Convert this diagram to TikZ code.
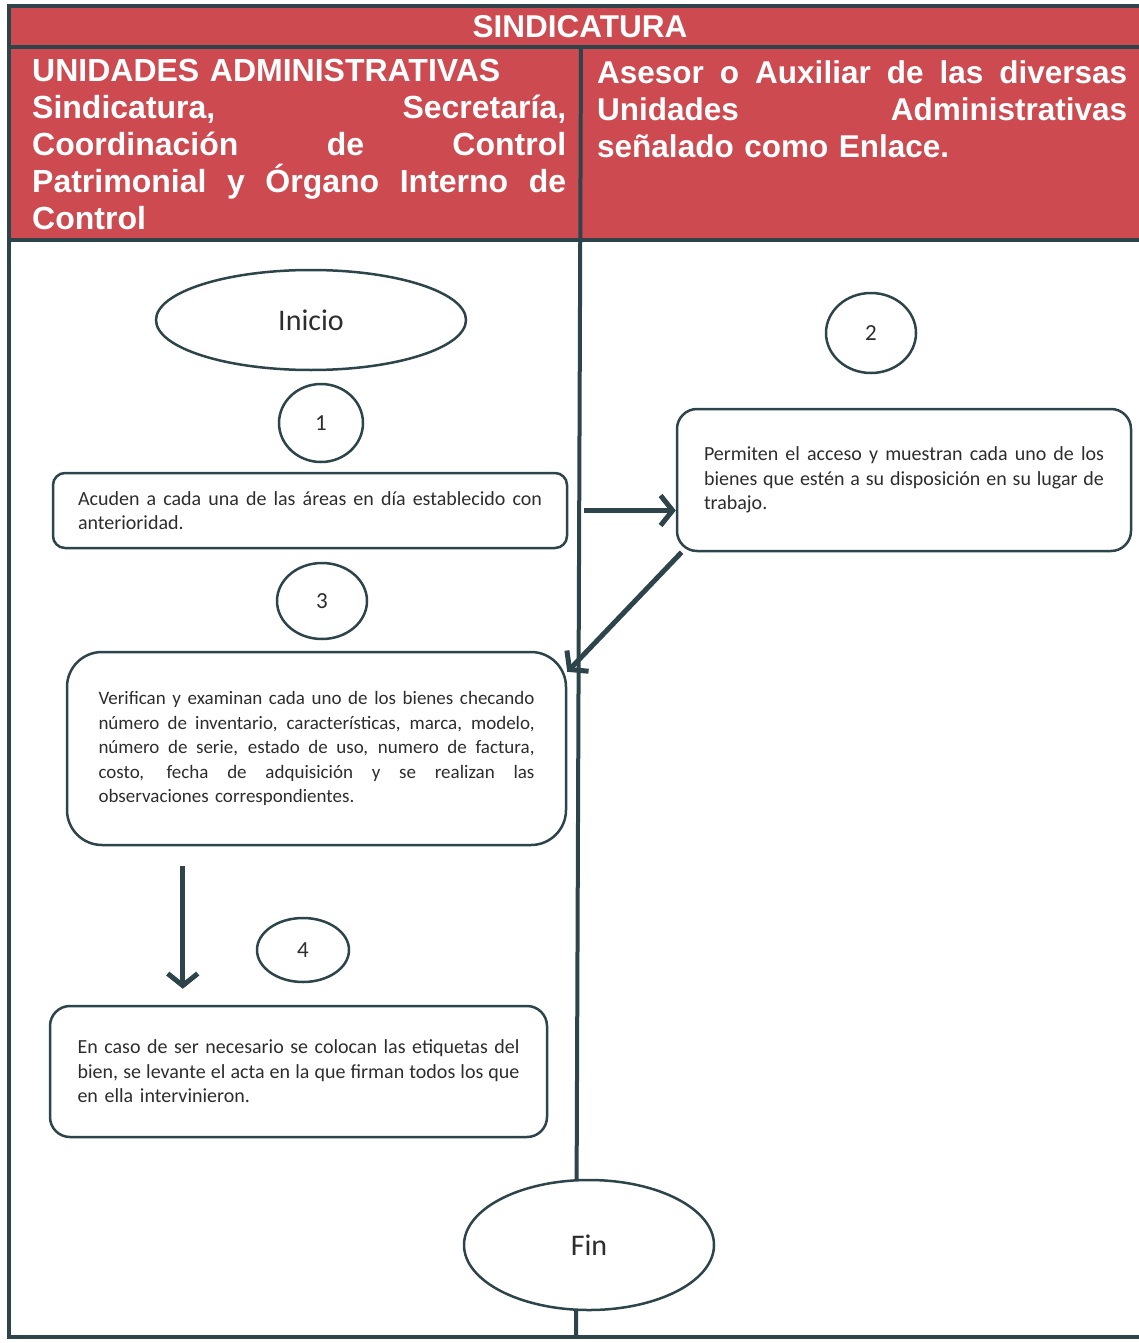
\documentclass[tikz,border=0pt]{standalone}
\usepackage{fontspec}
\setmainfont{Carlito}
\newfontfamily\cabecera{Liberation Sans}
\usetikzlibrary{shapes.geometric,arrows.meta}
\definecolor{rojocab}{RGB}{205,74,80}
\definecolor{linea}{RGB}{44,68,74}
\definecolor{texto}{RGB}{45,45,45}
\newcommand{\renglon}[1]{\makebox[\hsize][s]{\spaceskip=0pt\xspaceskip=0pt #1}\\}

\tikzset{
  marco/.style={draw=linea, line width=4pt},
  caja/.style={draw=linea, line width=2.5pt, rounded corners=#1, fill=white,
     align=left, inner sep=0pt, text=texto, font=\fontsize{20}{24.5}\selectfont},
  caja/.default=12pt,
  paso/.style={ellipse, draw=linea, line width=2.5pt, fill=white, inner sep=0pt,
     text=texto, font=\fontsize{23}{26}\selectfont},
  extremo/.style={ellipse, draw=linea, line width=2.5pt, fill=white, inner sep=0pt,
     text=texto, font=\fontsize{30}{36}\selectfont},
  flecha/.style={draw=linea, line width=5pt, -{Straight Barb[length=12pt,width=30pt]}},
  titulo/.style={text=white, inner sep=0pt, font=\cabecera\bfseries\fontsize{31.5}{37}\selectfont}
}

\begin{document}
\begin{tikzpicture}[x=1pt,y=-1pt]

\useasboundingbox (0,0) rectangle (1138,1343);

% encabezado
\fill[rojocab] (9,6) rectangle (1150,240);
\draw[marco] (1150,6) -- (9,6) -- (9,1337) -- (1150,1337);
\draw[marco] (9,47) -- (1150,47);
\draw[marco] (9,240) -- (1150,240);
\draw[marco] (581,47) -- (576,1337);

\node[titulo] (sind) at (580,27) {SINDICATURA};

\node[titulo, anchor=north west, text width=534pt, align=left,
      font=\cabecera\bfseries\fontsize{32}{37}\selectfont] (unid) at (32,59)
  {UNIDADES ADMINISTRATIVAS\\
   Sindicatura,\hfill Secretaría,\\
   Coordinación\hfill de\hfill Control\\
   Patrimonial\hfill y\hfill Órgano\hfill Interno\hfill de\\
   Control};

\node[titulo, anchor=north west, text width=530pt, align=left] (enlace) at (597,60)
  {Asesor\hfill o\hfill Auxiliar\hfill de\hfill las\hfill diversas\\
   Unidades\hfill Administrativas\\
   señalado como Enlace.};

% diagrama
\node[extremo, minimum width=310pt, minimum height=100pt] (ini) at (311,320) {Inicio};

\node[paso, minimum width=84pt, minimum height=78pt] (n1) at (321,423) {1};
\node[caja, minimum width=514pt, minimum height=75pt, text width=464pt] (acuden) at (310,510.5)
  {\renglon{Acuden a cada una de las áreas en día establecido con}
   anterioridad.};

\node[paso, minimum width=90pt, minimum height=80pt] (n2) at (871,333) {2};
\node[caja=20pt, minimum width=454pt, minimum height=142pt, text width=400pt] (permiten) at (904,480)
  {\renglon{Permiten el acceso y muestran cada uno de los}
   \renglon{bienes que estén a su disposición en su lugar de}
   trabajo.};

\node[paso, minimum width=90pt, minimum height=76pt] (n3) at (322,601) {3};
\node[caja=35pt, minimum width=499pt, minimum height=193pt, text width=436pt,
      font=\fontsize{19}{24.5}\selectfont] (verifican) at (316.5,748.5)
  {\renglon{Verifican y examinan cada uno de los bienes checando}
   \renglon{número de inventario, características, marca, modelo,}
   \renglon{número de serie, estado de uso, numero de factura,}
   \renglon{costo, fecha de adquisición y se realizan las}
   observaciones correspondientes.};

\node[paso, minimum width=92pt, minimum height=64pt] (n4) at (303,950) {4};
\node[caja=20pt, minimum width=497pt, minimum height=131pt, text width=442pt] (bien) at (298.5,1071.5)
  {\renglon{En caso de ser necesario se colocan las etiquetas del}
   \renglon{bien, se levante el acta en la que firman todos los que}
   en ella intervinieron.};

\node[extremo, minimum width=250pt, minimum height=130pt] (fin) at (589,1245) {Fin};

% flechas
\draw[flecha, shorten <=16pt] (acuden.east) -- (acuden.east -| permiten.west);
\draw[flecha] (permiten.198) -- (verifican.17);
\draw[flecha, shorten <=20pt, shorten >=16pt]
  ([xshift=117pt]verifican.south west) -- ([xshift=134pt]bien.north west);

\end{tikzpicture}
\end{document}
